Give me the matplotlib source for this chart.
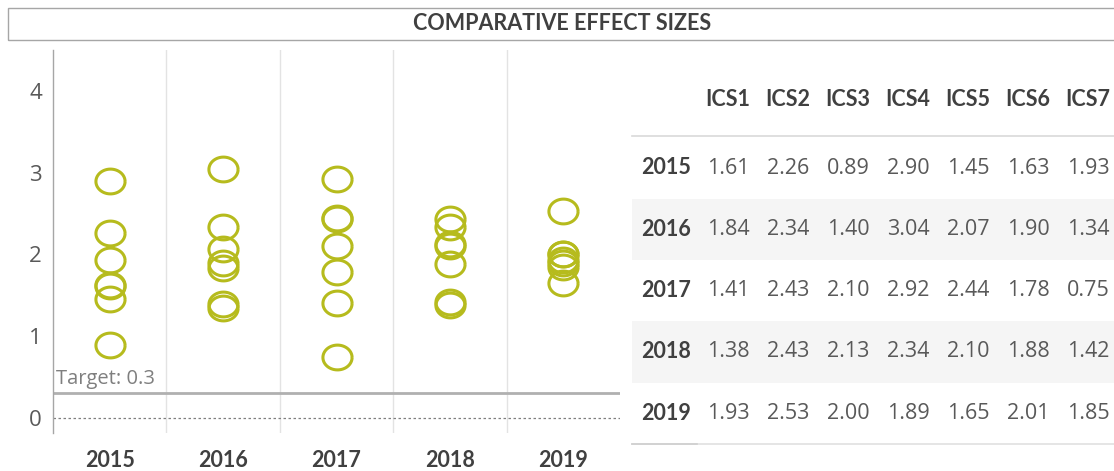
import numpy as np
import matplotlib.pyplot as plt
from matplotlib.patches import Rectangle
from matplotlib.path import Path

# data
years = ["2015", "2016", "2017", "2018", "2019"]
measures = ["ICS1", "ICS2", "ICS3", "ICS4", "ICS5", "ICS6", "ICS7"]
v2015 = [1.61, 2.26, 0.89, 2.90, 1.45, 1.63, 1.93]
v2016 = [1.84, 2.34, 1.40, 3.04, 2.07, 1.90, 1.34]
v2017 = [1.41, 2.43, 2.10, 2.92, 2.44, 1.78, 0.75]
v2018 = [1.38, 2.43, 2.13, 2.34, 2.10, 1.88, 1.42]
v2019 = [1.93, 2.53, 2.00, 1.89, 1.65, 2.01, 1.85]
target = 0.3

rows = [v2015, v2016, v2017, v2018, v2019]

W, H = 1114, 471
fig = plt.figure(figsize=(W / 100, H / 100), dpi=100)
fig.patch.set_facecolor("white")

def fx(px):
    return px / W

def fy(py):
    return 1 - py / H

# title box
fig.patches.append(Rectangle((fx(8), fy(40)), fx(1120 - 8), (40 - 8) / H,
                             transform=fig.transFigure, fill=False,
                             edgecolor="#a6a6a6", lw=1.0))
fig.text(fx(562), fy(24), "COMPARATIVE EFFECT SIZES", ha="center", va="center",
         fontsize=15.5, fontweight="bold", color="#404040", family="Lato")

# scatter chart
ax = fig.add_axes([fx(53), fy(433), fx(620 - 53), (433 - 50) / H])
ell = np.linspace(0, 2 * np.pi, 60)
ell_marker = Path(np.column_stack([np.cos(ell), 0.85 * np.sin(ell)]))
for i, vals in enumerate(rows):
    ax.plot([i] * len(vals), vals, linestyle="none", marker=ell_marker,
            markersize=21, markerfacecolor="none", markeredgecolor="#b6bb1d",
            markeredgewidth=2.2, zorder=3)

ax.axhline(target, color="#b0b0b0", lw=2.0, zorder=2)
ax.axhline(0, color="#7f7f7f", lw=0.9, linestyle=(0, (2, 2)), zorder=2)
ax.text(-0.47, target + 0.06, "Target: 0.3", ha="left", va="bottom",
        fontsize=14.5, color="#7f7f7f", family="Open Sans")

for b in np.arange(0.5, len(years) - 1, 1.0):
    ax.axvline(b, color="#e3e3e3", lw=1.0, zorder=1)

ax.set_xlim(-0.5, len(years) - 0.5)
ax.set_ylim(-0.183, 4.5)
ax.set_xticks(range(len(years)))
ax.set_xticklabels(years, fontsize=15.5, fontweight="bold", color="#404040",
                   family="Lato")
ax.set_yticks(range(0, 5))
ax.set_yticklabels([str(t) for t in range(0, 5)], fontsize=16,
                   color="#595959", family="Open Sans")
ax.tick_params(length=0)
ax.tick_params(axis="x", pad=12)
ax.tick_params(axis="y", pad=8)
for s in ["top", "right", "bottom"]:
    ax.spines[s].set_visible(False)
ax.spines["left"].set_color("#a6a6a6")
ax.spines["left"].set_linewidth(1.0)

# table
tx0, tx1 = 632, 1114
col0, colstep = 728, 60
rowlab_x = 666
head_y = 100
row0, rowstep = 168, 61.3

tab = fig.add_axes([0, 0, 1, 1], zorder=-1)
tab.set_xlim(0, W)
tab.set_ylim(H, 0)
tab.axis("off")

for r in range(len(years)):
    yc = row0 + rowstep * r
    if r % 2 == 1:
        tab.add_patch(Rectangle((tx0, yc - rowstep / 2), tx1 - tx0, rowstep,
                                facecolor="#f5f5f5", edgecolor="none"))
tab.plot([tx0, tx1], [136, 136], color="#d9d9d9", lw=1.2)
tab.plot([tx0, tx1], [444, 444], color="#e0e0e0", lw=1.2)
tab.plot([tx0, 697], [444, 444], color="#cfcfcf", lw=1.2)

for j, m in enumerate(measures):
    tab.text(col0 + colstep * j, head_y, m, ha="center", va="center",
             fontsize=15.5, fontweight="bold", color="#404040", family="Lato")

for r, (yr, vals) in enumerate(zip(years, rows)):
    yc = row0 + rowstep * r
    tab.text(rowlab_x, yc, yr, ha="center", va="center", fontsize=15.5,
             fontweight="bold", color="#404040", family="Lato")
    for j, v in enumerate(vals):
        tab.text(col0 + colstep * j, yc, f"{v:.2f}", ha="center", va="center",
                 fontsize=15.5, color="#595959", family="Open Sans")

fig.savefig("out.png", dpi=100)
